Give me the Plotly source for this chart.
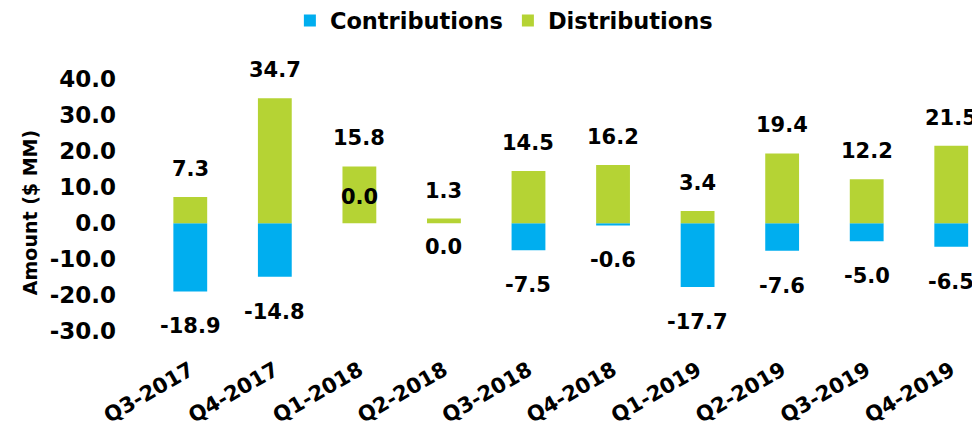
import plotly.graph_objects as go

quarters = ['Q3-2017', 'Q4-2017', 'Q1-2018', 'Q2-2018', 'Q3-2018',
            'Q4-2018', 'Q1-2019', 'Q2-2019', 'Q3-2019', 'Q4-2019']
contributions = [-18.9, -14.8, 0.0, 0.0, -7.5, -0.6, -17.7, -7.6, -5.0, -6.5]
distributions = [7.3, 34.7, 15.8, 1.3, 14.5, 16.2, 3.4, 19.4, 12.2, 21.5]
yticks = [-30, -20, -10, 0, 10, 20, 30, 40]

blue = '#00AEEF'
green = '#B5D334'
fam = 'DejaVu Sans'
font = dict(family=fam, size=21, color='black', weight='bold')

fig = go.Figure()
fig.add_trace(go.Bar(x=quarters, y=contributions, name='Contributions',
                     marker=dict(color=blue, line=dict(width=0))))
fig.add_trace(go.Bar(x=quarters, y=distributions, name='Distributions',
                     marker=dict(color=green, line=dict(width=0))))

# value labels
for i, q in enumerate(quarters):
    d = distributions[i]
    fig.add_annotation(x=q, y=d, text=f'{d:.1f}', showarrow=False,
                       yanchor='middle', yshift=28, font=font)
    c = contributions[i]
    shift = -35
    if c == 0:
        shift = 26 if d > 10 else -24
    fig.add_annotation(x=q, y=c, text=f'{c:.1f}', showarrow=False,
                       yanchor='middle', yshift=shift, font=font)

fig.update_layout(
    barmode='relative',
    bargap=0.6,
    width=980, height=432,
    margin=dict(l=140, r=8, t=64, b=87),
    plot_bgcolor='white', paper_bgcolor='white',
    font=font,
    showlegend=True,
    legend=dict(orientation='h', x=0.506, xref='container', xanchor='center',
                y=0.97, yref='container', yanchor='middle',
                font=dict(family=fam, size=22.5, weight='bold'),
                itemwidth=30),
)
fig.update_xaxes(range=[-0.5, 9.34], tickangle=-30, showline=False,
                 ticks='', automargin=False,
                 tickfont=dict(family=fam, size=21, weight='bold'))
fig.update_yaxes(range=[-36, 42], tickvals=yticks,
                 ticktext=[f'{v:.1f}' for v in yticks],
                 showgrid=False, zeroline=False,
                 automargin=False, ticklabelstandoff=31,
                 tickfont=dict(family=fam, size=23, weight='bold'),
                 title=dict(text='Amount ($ MM)', standoff=7,
                            font=dict(family=fam, size=19, weight='bold')))

fig.write_html('out.html')
